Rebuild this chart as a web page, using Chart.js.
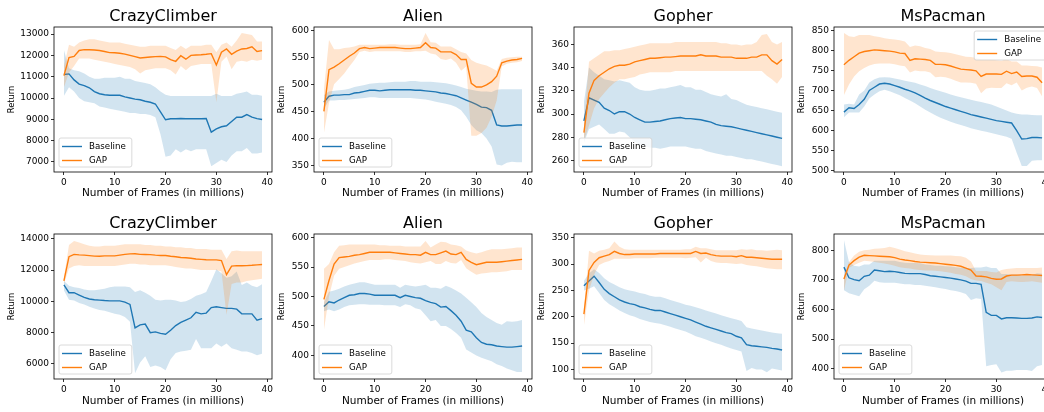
<!DOCTYPE html>
<html>
<head>
<meta charset="utf-8">
<script src="https://cdn.jsdelivr.net/npm/chart.js@4.4.0/dist/chart.umd.min.js"></script>
<style>
html, body { margin: 0; padding: 0; background: #fff; }
body { width: 1044px; height: 412px; overflow: hidden; position: relative; }
canvas { position: absolute; }
</style>
</head>
<body>
<script>
// x values (millions of frames)
var frames = [0,1,2,3,4,5,6,7,8,9,10,11,12,13,14,15,16,17,18,19,20,21,22,23,24,25,26,27,28,29,30,31,32,33,34,35,36,37,38,39];
var xTicks = [0, 10, 20, 30, 40];

// ---- top row ----
var c1Base   = [11100,11130,10850,10650,10580,10480,10300,10200,10150,10130, 10130,10130,10050,10000,9950,9920,9850,9800,9720,9350, 8980,9030,9030,9040,9030,9030,9030,9030,9040,8400, 8550,8650,8700,8900,9100,9100,9220,9100,9030,8990];
var c1BaseHi = [12250,11400,11300,11250,11150,11000,10900,10900,10950,10950, 10950,11000,10900,10900,10800,10750,10700,10650,10500,10300, 10150,10100,10100,10100,10100,10100,10100,10100,10100,10100, 10200,10100,10100,10100,10200,10250,10300,10150,10150,10100];
var c1BaseLo = [10100,10500,10300,10000,9850,9800,9750,9600,9550,9500, 9450,9400,9350,9300,9300,9250,9250,9200,9100,8300, 7250,7300,7600,7450,7600,7500,7600,7600,7600,6800, 6950,7100,7000,7300,7500,7500,7650,7400,7400,7450];
var c1Gap    = [11050,11900,11950,12230,12270,12260,12250,12230,12180,12130, 12120,12100,12060,12000,11940,11880,11900,11920,11940,11950, 11930,11800,11720,11980,11820,12000,12020,12030,12050,12080, 11550,12150,12300,12050,12200,12300,12320,12400,12180,12220];
var c1GapHi  = [11500,12500,12400,12600,12700,12750,12750,12700,12650,12600, 12600,12600,12550,12500,12450,12400,12400,12450,12450,12450, 12450,12350,12250,12450,12300,12450,12450,12450,12500,12500, 12150,12500,12600,12400,12700,13050,13000,12950,12650,12650];
var c1GapLo  = [10500,11200,11500,11850,11850,11850,11800,11750,11700,11650, 11600,11550,11500,11450,11350,11150,11300,11350,11400,11400, 11400,11300,11100,11500,11300,11500,11550,11600,11600,11600, 9800,11700,11950,11350,11700,11750,11700,11800,11750,11800];

var a1Base   = [467,478,480,480,481,481,484,485,487,489, 489,488,489,490,490,490,490,490,489,489, 488,487,486,484,483,481,479,475,471,467, 463,458,457,452,425,423,423,424,425,425];
var a1BaseHi = [480,487,488,489,490,492,495,497,499,501, 502,503,503,504,505,505,505,506,506,505, 505,505,504,503,502,500,498,495,492,490, 488,487,487,486,490,491,491,491,491,491];
var a1BaseLo = [455,470,470,471,471,472,473,474,475,476, 476,475,475,475,475,475,475,475,474,473, 472,470,468,466,464,462,458,452,440,425, 415,410,400,385,352,350,355,357,356,356];
var a1Gap    = [450,527,532,538,545,552,558,566,568,566, 567,568,568,568,568,567,566,566,567,568, 577,568,567,560,560,560,555,546,546,502, 495,495,499,505,515,540,543,545,546,548];
var a1GapHi  = [490,582,565,565,567,568,570,573,573,573, 573,573,573,574,574,573,573,573,573,574, 595,578,577,570,570,570,565,560,557,545, 540,537,535,530,525,547,549,550,551,551];
var a1GapLo  = [410,465,500,510,520,533,545,560,562,560, 561,561,561,561,561,561,560,560,561,561, 562,557,555,547,545,548,540,525,533,405, 405,410,420,440,470,533,538,540,541,543];

var g1Base   = [294,314,312,310,305,303,300,302,302,300, 297,295,293,293,293.5,294,295,296,296.5,297, 296,296,295.5,295,294,293,291,290,289.5,289, 288,287,286,285,284,283,282,281,280,279];
var g1BaseHi = [310,340,336,333,330,329,328,329,328,327, 323,321,320,320,321,322,322,323,324,325, 323,323,321,321,319,317,316,315,317,313, 312,310,308,307,306,305,304,303,302,301];
var g1BaseLo = [275,287,289,291,287,283,283,285,284,280, 276,273,272,271,271,270,271,272,272,272, 272,271,270,270,268,267,266,265,264,264, 263,262,261,261,260,259,258,257,256,255];
var g1Gap    = [284,318,329,333,336,339,341,342,342,343, 345,346,347,348,348,348.5,349,349,349.5,350, 350,350,350,351,350,350,350,349,349,349, 348,348,348,349,349,351,351,346,343,347];
var g1GapHi  = [290,345,348,351,354,354,355,355,356,357, 358,359,360,361,361,361,361,361,362,362, 362,362,362,362,362,362,362,361,361,360, 360,359,360,360,362,368,369,362,360,362];
var g1GapLo  = [277,290,305,313,318,323,327,330,330,331, 332,334,335,336,336,336,336,336,337,337, 337,337,337,337,337,337,337,337,337,337, 337,337,337,337,337,337,333,330,326,332];

var m1Base   = [646,657,655,665,678,700,708,716,718,716, 712,708,703,699,694,688,681,675,670,665, 660,656,652,648,644,640,637,634,631,628, 625,623,621,619,600,579,580,583,583,582];
var m1BaseHi = [665,667,665,690,700,720,728,732,733,732, 730,727,724,722,719,715,711,706,702,698, 694,690,686,683,680,677,674,671,668,665, 660,655,650,645,642,640,640,639,638,638];
var m1BaseLo = [633,645,645,645,660,680,690,698,702,698, 693,688,681,675,668,660,652,645,638,632, 627,622,618,614,610,606,603,600,597,594, 591,588,585,580,545,512,512,525,526,526];
var m1Gap    = [764,775,784,793,797,799,801,800,799,798, 796,793,792,775,779,778,777,775,765,765, 764,761,757,753,752,751,749,735,741,741, 741,740,748,742,746,735,736,736,733,719];
var m1GapHi  = [843,835,833,838,838,838,835,833,830,828, 827,825,822,808,812,810,806,803,797,796, 795,793,790,787,784,783,781,778,778,777, 775,774,778,772,772,762,762,761,760,757];
var m1GapLo  = [688,715,735,748,756,762,766,767,767,767, 765,762,760,745,750,748,748,745,733,734, 733,729,724,720,720,719,717,693,705,707, 706,706,718,713,720,700,707,710,706,685];

// ---- bottom row ----
var c2Base   = [11050,10550,10550,10400,10250,10150,10100,10080,10050,10030, 10030,10030,9950,9800,8300,8500,8550,8000,8050,7950, 7900,8150,8450,8650,8800,8950,9300,9200,9250,9600, 9650,9600,9550,9550,9500,9200,9200,9200,8800,8900];
var c2BaseHi = [11300,11000,10900,10850,10750,10700,10700,10750,10800,10900, 10950,10950,10950,10900,10600,10700,10550,10350,10100,10050, 10100,10100,10050,9950,10000,10150,10350,10450,10600,11300, 12050,11800,11500,11600,11900,11050,11200,11000,10900,11100];
var c2BaseLo = [10700,10100,10050,9900,9800,9650,9550,9450,9400,9300, 9200,9150,9000,8700,5400,6100,6500,5800,5900,5800, 5600,6300,6700,6800,6850,6900,7600,7000,7000,7000, 7300,7100,7300,7000,6900,6800,6800,6700,6550,6650];
var c2Gap    = [11300,12850,13000,12970,12950,12920,12890,12880,12900,12900, 12900,12950,13000,13030,13040,13000,12990,12980,12950,12930, 12930,12880,12850,12800,12780,12750,12700,12680,12660,12650, 12650,12600,11700,12250,12280,12270,12280,12300,12330,12350];
var c2GapHi  = [11500,13600,13850,13750,13650,13550,13500,13500,13550,13550, 13550,13600,13650,13650,13650,13650,13600,13600,13550,13550, 13500,13500,13450,13450,13400,13400,13350,13350,13350,13300, 13300,13300,12700,13200,13250,13200,13200,13200,13200,13200];
var c2GapLo  = [11100,12100,12250,12300,12250,12250,12250,12250,12250,12250, 12250,12300,12350,12400,12400,12350,12350,12300,12300,12300, 12300,12250,12200,12150,12100,12100,12050,12000,12000,12000, 12000,11900,9150,11100,11200,11200,11300,11350,11400,11450];

var a2Base   = [483,491,489,494,498,502,503,505,505,504, 502,502,502,502,502,498,502,500,498,497, 493,490,488,482,483,476,468,458,443,440, 430,422,419,418,416,415,414,414,415,416];
var a2BaseHi = [490,508,510,513,517,520,522,524,524,522, 520,520,520,520,520,515,520,518,517,518, 520,515,515,513,518,515,510,505,498,490, 482,472,465,460,455,452,458,457,458,460];
var a2BaseLo = [475,478,475,478,482,485,486,487,487,486, 486,486,485,485,485,482,487,485,480,478, 468,458,460,450,450,445,438,430,410,405, 400,396,393,390,385,382,378,375,372,372];
var a2Gap    = [495,527,555,566,567,568,570,571,573,575, 575,575,575,575,574,573,572,571,571,570, 575,571,571,574,577,572,571,575,563,558, 554,556,558,558,558,559,560,561,562,563];
var a2GapHi  = [547,555,575,586,587,588,588,588,588,588, 588,587,587,586,586,586,585,585,585,585, 594,583,588,593,592,588,587,585,578,575, 573,575,578,580,580,580,581,582,583,583];
var a2GapLo  = [443,500,535,547,550,553,556,558,560,562, 562,562,563,563,562,561,560,558,557,556, 558,560,555,555,560,557,556,562,548,542, 537,539,540,541,541,542,543,545,545,545];

var g2Base   = [259,268,277,265,252,244,238,232,228,225, 223,219,217,214,212,212,209,206,203,200, 197,194,190,186,182,179,176,173,170,168, 163,160,147,145,144,143,142,140,139,137];
var g2BaseHi = [268,282,290,283,273,266,261,256,252,250, 248,245,243,240,238,238,235,232,229,226, 223,221,218,215,212,209,206,203,200,197, 195,192,180,178,176,174,172,170,169,168];
var g2BaseLo = [250,253,258,245,232,224,218,212,207,203, 200,196,193,190,188,187,184,181,178,175, 172,168,163,160,157,153,150,147,143,140, 137,134,97,103,100,100,95,102,100,98];
var g2Gap    = [205,288,303,312,315,318,324,320,318,318, 319,319,319,319,319,320,320,320,320,320, 320,320,324,320,321,318,316,315,315,315, 314,316,313,313,312,311,310,309,309,309];
var g2GapHi  = [213,325,320,325,327,330,343,333,328,327, 327,327,327,327,327,327,327,327,327,327, 328,328,333,330,330,328,326,326,326,326, 326,328,327,328,326,326,325,326,327,326];
var g2GapLo  = [183,250,280,298,303,306,310,310,310,310, 311,311,311,311,312,312,312,312,312,312, 311,312,313,303,312,306,303,302,302,301, 300,301,298,297,296,294,292,291,290,290];

var m2Base   = [743,707,701,697,712,716,733,731,728,729, 728,725,722,721,721,721,718,714,712,710, 708,706,703,700,696,688,688,685,590,580, 580,568,572,572,571,570,570,571,575,573];
var m2BaseHi = [835,760,748,745,752,752,765,765,765,765, 765,760,758,757,757,756,752,750,748,748, 746,745,743,741,740,740,742,742,745,740, 740,720,720,718,718,715,715,716,722,721];
var m2BaseLo = [665,655,650,645,668,680,697,692,690,690, 690,688,685,685,683,683,680,678,675,672, 669,665,662,658,652,632,638,635,408,412, 415,387,393,393,395,395,395,392,408,412];
var m2Gap    = [703,750,765,777,783,782,781,780,779,778, 775,770,767,765,762,760,759,758,757,755, 753,751,749,746,740,733,713,712,710,705, 702,703,713,716,716,717,718,717,716,715];
var m2GapHi  = [710,760,782,795,800,802,805,806,808,812, 808,803,797,793,789,786,784,783,782,782, 782,782,781,780,775,762,730,730,730,727, 725,733,737,738,740,740,740,740,740,742];
var m2GapLo  = [663,740,750,758,765,763,760,758,755,752, 748,743,740,738,735,733,732,732,731,729, 727,724,720,717,712,703,698,696,690,685, 675,665,693,695,694,693,694,695,693,690];

var titles = ['CrazyClimber', 'Alien', 'Gopher', 'MsPacman', 'CrazyClimber', 'Alien', 'Gopher', 'MsPacman'];
var yTicks = [
    [7000, 8000, 9000, 10000, 11000, 12000, 13000],
    [350, 400, 450, 500, 550, 600],
    [260, 280, 300, 320, 340, 360],
    [500, 550, 600, 650, 700, 750, 800, 850],
    [6000, 8000, 10000, 12000, 14000],
    [400, 450, 500, 550, 600],
    [100, 150, 200, 250, 300, 350],
    [400, 500, 600, 700, 800]
];
var yLimits = [[6530, 13330], [338, 606], [250, 375], [497, 858], [5040, 14300], [360, 606], [82, 357], [365, 855]];

var panelData = [
    [c1Base, c1BaseHi, c1BaseLo, c1Gap, c1GapHi, c1GapLo],
    [a1Base, a1BaseHi, a1BaseLo, a1Gap, a1GapHi, a1GapLo],
    [g1Base, g1BaseHi, g1BaseLo, g1Gap, g1GapHi, g1GapLo],
    [m1Base, m1BaseHi, m1BaseLo, m1Gap, m1GapHi, m1GapLo],
    [c2Base, c2BaseHi, c2BaseLo, c2Gap, c2GapHi, c2GapLo],
    [a2Base, a2BaseHi, a2BaseLo, a2Gap, a2GapHi, a2GapLo],
    [g2Base, g2BaseHi, g2BaseLo, g2Gap, g2GapHi, g2GapLo],
    [m2Base, m2BaseHi, m2BaseLo, m2Gap, m2GapHi, m2GapLo]
];

var BLUE = '#1f77b4', ORANGE = '#ff7f0e';
var BLUE_BAND = 'rgba(31,119,180,0.2)', ORANGE_BAND = 'rgba(255,127,14,0.2)';

Chart.defaults.font.family = '"DejaVu Sans", sans-serif';
Chart.defaults.color = '#000';

// layout of the figure (pixels)
var spineLeft = [54, 314, 574, 834];
var yAxisW = [49, 39, 39, 39];
var rowTop = [0, 206];
var topPad = [27, 28];
var xAxisH = [28, 29];
var plotW = 218, plotH = 145, rightPad = 8;

// title, box spines and matplotlib style legend
var mplFrame = {
    id: 'mplFrame',
    afterDraw: function (chart, args, opts) {
        var ctx = chart.ctx, a = chart.chartArea;
        ctx.save();
        ctx.fillStyle = '#000';
        ctx.font = '16px "DejaVu Sans"';
        ctx.textAlign = 'center';
        ctx.textBaseline = 'alphabetic';
        ctx.fillText(opts.title, (a.left + a.right) / 2, a.top - 6);

        ctx.strokeStyle = '#000';
        ctx.lineWidth = 0.8;
        ctx.strokeRect(a.left, a.top, a.right - a.left, a.bottom - a.top);

        var items = chart.data.datasets.filter(function (d) { return d.label; });
        ctx.font = '8.7px "DejaVu Sans"';
        var tw = 0;
        items.forEach(function (d) { tw = Math.max(tw, ctx.measureText(d.label).width); });
        var w = 30 + tw + 6, h = 29, x, y;
        if (opts.legend === 'upper right') {
            x = a.right - 5 - w; y = a.top + 4;
        } else {
            x = a.left + 5; y = a.bottom - 5 - h;
        }
        ctx.beginPath();
        ctx.roundRect(x, y, w, h, 2);
        ctx.fillStyle = 'rgba(255,255,255,0.8)';
        ctx.fill();
        ctx.strokeStyle = '#d0d0d0';
        ctx.stroke();
        ctx.textAlign = 'left';
        ctx.textBaseline = 'middle';
        items.forEach(function (d, i) {
            var yy = y + 8.5 + i * 14;
            ctx.beginPath();
            ctx.moveTo(x + 3, yy);
            ctx.lineTo(x + 23, yy);
            ctx.strokeStyle = d.borderColor;
            ctx.lineWidth = 1.4;
            ctx.stroke();
            ctx.fillStyle = '#000';
            ctx.fillText(d.label, x + 30, yy);
        });
        ctx.restore();
    }
};

function toPoints(arr) {
    return frames.map(function (f, i) { return { x: f, y: arr[i] }; });
}

function makeDatasets(d) {
    return [
        { label: 'Baseline', data: toPoints(d[0]), borderColor: BLUE, borderWidth: 1.4, pointRadius: 0, fill: false, order: 4 },
        { data: toPoints(d[1]), borderColor: 'transparent', borderWidth: 0, backgroundColor: BLUE_BAND, pointRadius: 0, fill: 2, order: 3 },
        { data: toPoints(d[2]), borderColor: 'transparent', borderWidth: 0, pointRadius: 0, fill: false, order: 3 },
        { label: 'GAP', data: toPoints(d[3]), borderColor: ORANGE, borderWidth: 1.4, pointRadius: 0, fill: false, order: 2 },
        { data: toPoints(d[4]), borderColor: 'transparent', borderWidth: 0, backgroundColor: ORANGE_BAND, pointRadius: 0, fill: 5, order: 1 },
        { data: toPoints(d[5]), borderColor: 'transparent', borderWidth: 0, pointRadius: 0, fill: false, order: 1 }
    ];
}

panelData.forEach(function (d, p) {
    var row = Math.floor(p / 4), col = p % 4;
    var W = yAxisW[col], H = xAxisH[row];
    var canvas = document.createElement('canvas');
    canvas.width = W + plotW + rightPad;
    canvas.height = topPad[row] + plotH + H;
    canvas.style.left = (spineLeft[col] - W) + 'px';
    canvas.style.top = rowTop[row] + 'px';
    document.body.appendChild(canvas);

    var ticksY = yTicks[p];
    new Chart(canvas.getContext('2d'), {
        type: 'line',
        data: { datasets: makeDatasets(d) },
        options: {
            responsive: false,
            animation: false,
            events: [],
            layout: { padding: { left: 0, right: rightPad, top: topPad[row], bottom: 0 } },
            plugins: {
                legend: { display: false },
                tooltip: { enabled: false },
                mplFrame: { title: titles[p], legend: p === 3 ? 'upper right' : 'lower left' }
            },
            scales: {
                x: {
                    type: 'linear',
                    min: -1.95,
                    max: 40.95,
                    afterBuildTicks: function (s) { s.ticks = xTicks.map(function (v) { return { value: v }; }); },
                    afterFit: function (s) { s.height = H; },
                    ticks: { autoSkip: false, maxRotation: 0, padding: 2, font: { size: 9 }, callback: function (v) { return String(v); } },
                    grid: { display: true, drawOnChartArea: false, drawTicks: true, tickLength: 3, color: '#000', lineWidth: 0.8 },
                    border: { display: false },
                    title: { display: true, text: 'Number of Frames (in millions)', font: { size: 10.5 }, padding: { top: 0, bottom: 0 } }
                },
                y: {
                    type: 'linear',
                    min: yLimits[p][0],
                    max: yLimits[p][1],
                    afterBuildTicks: function (s) { s.ticks = ticksY.map(function (v) { return { value: v }; }); },
                    afterFit: function (s) { s.width = W; },
                    ticks: { autoSkip: false, padding: 2, font: { size: 9 }, callback: function (v) { return String(v); } },
                    grid: { display: true, drawOnChartArea: false, drawTicks: true, tickLength: 3, color: '#000', lineWidth: 0.8 },
                    border: { display: false },
                    title: { display: true, text: 'Return', font: { size: 8.3 }, padding: { top: 2, bottom: 0 } }
                }
            }
        },
        plugins: [mplFrame]
    });
});
</script>
</body>
</html>
